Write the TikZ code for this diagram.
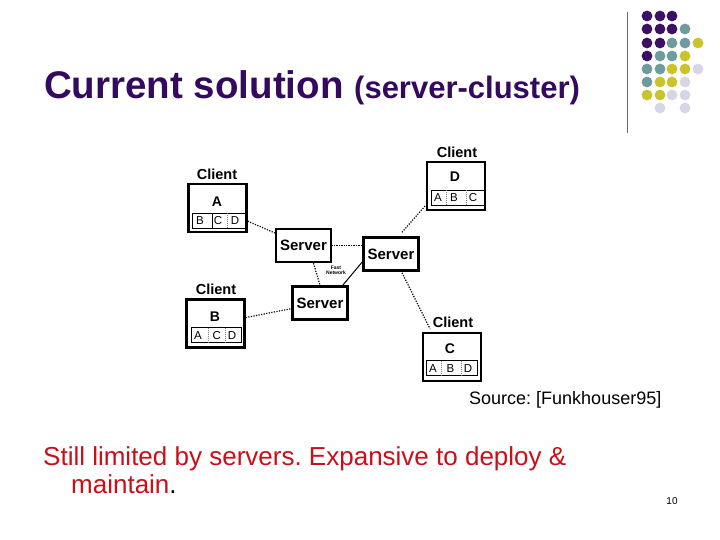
\documentclass[tikz,border=0pt]{standalone}
\usepackage{fontspec}
\setmainfont{Liberation Sans}
\frenchspacing
\definecolor{titlecol}{HTML}{330A5E}
\definecolor{redtext}{HTML}{C8101A}
\definecolor{dotP}{HTML}{3B1163}
\definecolor{dotT}{HTML}{6E9C9C}
\definecolor{dotY}{HTML}{C9C42C}
\definecolor{dotL}{HTML}{D6D6E6}
\begin{document}
\begin{tikzpicture}[x=1pt,y=-1pt,
  box/.style={draw, line width=2.5pt, inner sep=0pt},
  clientbox/.style={box, minimum width=58pt, minimum height=48pt},
  serverbox/.style={box, minimum width=55pt, minimum height=33pt, font=\fontsize{15}{18}\selectfont\bfseries},
  clientlab/.style={inner sep=0pt, font=\fontsize{14.5}{17}\selectfont\bfseries},
  bigletter/.style={inner sep=0pt, font=\fontsize{14}{17}\selectfont\bfseries},
  strip/.style={draw, line width=0.6pt, inner sep=0pt, minimum height=15pt},
  smalllet/.style={inner sep=0pt, font=\fontsize{11.5}{13}\selectfont},
  divider/.style={draw=gray, line width=0.5pt, dash pattern=on 1pt off 1pt},
  link/.style={line width=1.2pt, dash pattern=on 1.2pt off 1.4pt},
  denselink/.style={line width=1.6pt, dash pattern=on 1pt off 0.7pt},
  txt/.style={inner sep=0pt, anchor=base west}
]
\useasboundingbox (0,0) rectangle (720,540);
\fill[white] (0,0) rectangle (720,540);

% Title
\node[txt, text=titlecol, font=\fontsize{38.5}{42}\selectfont\bfseries] (title) at (44,99) {Current solution};
\node[txt, text=titlecol, font=\fontsize{31}{35}\selectfont\bfseries] (subtitle) at (354,99) {(server-cluster)};

% decoration
\draw[line width=0.8pt, gray!80!black] (627,12) coordinate (vtop) -- (627,133) coordinate (vbot);
\foreach \x/\y/\c in {
  647/16/dotP, 660/16/dotP, 672/16/dotP,
  647/29/dotP, 660/29/dotP, 672/29/dotP, 685/29/dotT,
  647/43/dotP, 660/43/dotP, 672/43/dotT, 685/43/dotT, 698/43/dotY,
  647/56/dotP, 660/56/dotT, 672/56/dotT, 685/56/dotY,
  647/69/dotT, 660/69/dotT, 672/69/dotY, 685/69/dotY, 698/69/dotL,
  647/82/dotT, 660/82/dotY, 672/82/dotY, 685/82/dotL,
  647/95/dotY, 660/95/dotY, 672/95/dotL, 685/95/dotL,
  660/108/dotL, 685/108/dotL}
  \fill[\c] (\x,\y) circle (5.4pt);

% Servers
\node[serverbox] (S1) at (303.5,245.5) {Server};
\node[serverbox] (S2) at (391,254) {Server};
\node[serverbox] (S3) at (320,303) {Server};

% Client A
\node[clientbox] (A) at (217.5,208) {};
\node[clientlab] (Alab) at (217,174) {Client};
\node[bigletter] (Aid) at (217,202) {A};
\node[strip, minimum width=53pt] (Astrip) at (218.5,220.5) {};
\node[smalllet] (A1) at (200,221) {B};
\node[smalllet] (A2) at (218,221) {C};
\node[smalllet] (A3) at (235,221) {D};
\draw[line width=0.5pt] (212,213) -- (212,228);
\draw[divider] (227,213) -- (227,228);

% Client B
\node[clientbox] (B) at (215.5,323.5) {};
\node[clientlab] (Blab) at (216,289) {Client};
\node[bigletter] (Bid) at (215,317) {B};
\node[strip, minimum width=50pt] (Bstrip) at (216.7,335) {};
\node[smalllet] (B1) at (198,335.5) {A};
\node[smalllet] (B2) at (216.7,335.5) {C};
\node[smalllet] (B3) at (232,335.5) {D};
\draw[divider] (208,327.5) -- (208,342.5);
\draw[divider] (225,327.5) -- (225,342.5);

% Client D
\node[clientbox] (D) at (456,186) {};
\node[clientlab] (Dlab) at (457,152) {Client};
\node[bigletter] (Did) at (455,177) {D};
\node[strip, minimum width=53pt] (Dstrip) at (457.3,197.5) {};
\node[smalllet] (D1) at (438,198) {A};
\node[smalllet] (D2) at (454,198) {B};
\node[smalllet] (D3) at (473,198) {C};
\draw[divider] (446.5,190) -- (446.5,205);
\draw[divider] (466.5,190) -- (466.5,205);

% Client C
\node[clientbox] (C) at (452,357) {};
\node[clientlab] (Clab) at (453,322) {Client};
\node[bigletter] (Cid) at (450,349) {C};
\node[strip, minimum width=51pt] (Cstrip) at (451.5,368) {};
\node[smalllet] (C1) at (433,368.5) {A};
\node[smalllet] (C2) at (450.5,368.5) {B};
\node[smalllet] (C3) at (468,368.5) {D};
\draw[divider] (441.7,360.5) -- (441.7,375.5);
\draw[divider] (461.7,360.5) -- (461.7,375.5);

% Fast network label
\node[inner sep=0pt, font=\fontsize{5}{6}\selectfont\bfseries, align=center] (fast) at (336,270) {Fast\\[-1pt]Network};

% Connectors
\draw[link] (A) -- (S1);
\draw[link] (B) -- (S3);
\draw[denselink] (S1.east) -- (S1.east -| S2.west);
\draw[link] ([xshift=10pt]S1.south) -- ([xshift=0pt]S3.north);
\draw[line width=1pt] ([xshift=-6pt]S3.north east) -- ([yshift=-8pt]S2.west);
\draw[link] ([xshift=11pt,yshift=4pt]S2.north) -- ([yshift=6pt]D.south west);
\draw[link] ([xshift=11pt,yshift=-1pt]S2.south) -- ([xshift=-22pt,yshift=3pt]C.north);

% Source
\node[txt, font=\fontsize{18}{21}\selectfont] (source) at (469,404) {Source: [Funkhouser95]};

% Bottom text
\node[txt, font=\fontsize{26}{30}\selectfont] (line1) at (43,465) {\textcolor{redtext}{Still limited by servers. Expansive to deploy \&}};
\node[txt, font=\fontsize{26}{30}\selectfont] (line2) at (71,493) {\textcolor{redtext}{maintain}.};

% Page number
\node[inner sep=0pt, font=\fontsize{10}{12}\selectfont] (pnum) at (672,501) {10};
\end{tikzpicture}
\end{document}
